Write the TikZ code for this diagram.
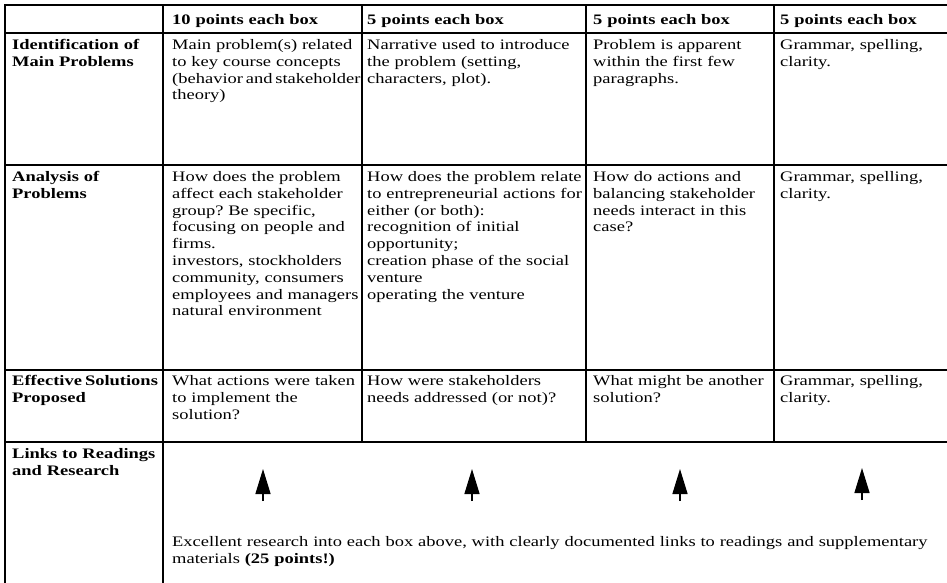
\documentclass[tikz,border=0pt]{standalone}
\usepackage{fontspec}
\setmainfont{Liberation Serif}[FakeStretch=1.275]
\usetikzlibrary{arrows.meta}
\frenchspacing
\newcommand{\cellfont}{\fontsize{14.5}{16.8}\selectfont\frenchspacing}
\begin{document}
\begin{tikzpicture}[x=1pt,y=-1pt,
  grid/.style={line width=2pt,line cap=rect},
  cell/.style={anchor=north west,inner sep=0pt,align=left,font=\cellfont},
  hcell/.style={cell,font=\cellfont\bfseries},
  uparrow/.style={line width=1.5pt,-{Triangle[length=25pt,width=15pt]}}]
\useasboundingbox (0,0) rectangle (947,583);
% grid lines
\draw[grid] (5,5) -- (947,5);
\draw[grid] (5,33) -- (947,33);
\draw[grid] (5,165) -- (947,165);
\draw[grid] (5,370) -- (947,370);
\draw[grid] (5,442) -- (947,442);
\draw[grid] (5,5) -- (5,590);
\draw[grid] (163,5) -- (163,590);
\draw[grid] (362,5) -- (362,442);
\draw[grid] (586,5) -- (586,442);
\draw[grid] (774,5) -- (774,442);
% header
\node[hcell,text width=188pt] (h1) at (172,12.5) {\strut 10 points each box};
\node[hcell,text width=217pt] (h2) at (367,12.5) {\strut 5 points each box};
\node[hcell,text width=179pt] (h3) at (593,12.5) {\strut 5 points each box};
\node[hcell,text width=160pt] (h4) at (780,12.5) {\strut 5 points each box};
% row 1
\node[hcell,text width=149pt] (r1c0) at (12,37.5) {\strut Identification of\\Main Problems};
\node[cell,text width=188pt] (r1c1) at (172,37.5) {\strut Main problem(s) related\\to key course concepts\\\mbox{(behavior\hspace{2.8pt}and\hspace{2.8pt}stakeholder}\\theory)};
\node[cell,text width=217pt] (r1c2) at (367,37.5) {\strut Narrative used to introduce\\the problem (setting,\\characters, plot).};
\node[cell,text width=179pt] (r1c3) at (593,37.5) {\strut Problem is apparent\\within the first few\\paragraphs.};
\node[cell,text width=160pt] (r1c4) at (780,37.5) {\strut Grammar, spelling,\\clarity.};
% row 2
\node[hcell,text width=149pt] (r2c0) at (12,169.5) {\strut Analysis of\\Problems};
\node[cell,text width=188pt] (r2c1) at (172,169.5) {\strut How does the problem\\affect each stakeholder\\group? Be specific,\\focusing on people and\\firms.\\investors, stockholders\\community, consumers\\employees and managers\\natural environment};
\node[cell,text width=217pt] (r2c2) at (367,169.5) {\strut How does the problem relate\\to entrepreneurial actions for\\either (or both):\\recognition of initial\\opportunity;\\creation phase of the social\\venture\\operating the venture};
\node[cell,text width=179pt] (r2c3) at (593,169.5) {\strut How do actions and\\balancing stakeholder\\needs interact in this\\case?};
\node[cell,text width=160pt] (r2c4) at (780,169.5) {\strut Grammar, spelling,\\clarity.};
% row 3
\node[hcell,text width=149pt] (r3c0) at (12,374) {\strut \mbox{Effective\hspace{3pt}Solutions}\\Proposed};
\node[cell,text width=188pt] (r3c1) at (172,374) {\strut What actions were taken\\to implement the\\solution?};
\node[cell,text width=217pt] (r3c2) at (367,374) {\strut How were stakeholders\\needs addressed (or not)?};
\node[cell,text width=179pt] (r3c3) at (593,374) {\strut What might be another\\solution?};
\node[cell,text width=160pt] (r3c4) at (780,374) {\strut Grammar, spelling,\\clarity.};
% row 4
\node[hcell,text width=149pt] (r4c0) at (12,446.5) {\strut Links to Readings\\and Research};
\node[cell,text width=770pt] (r4txt) at (172,534.5) {\strut Excellent research into each box above, with clearly documented links to readings and supplementary\\materials \textbf{(25 points!)}};
% arrows
\coordinate (a1s) at (263,501); \coordinate (a1t) at (263,469);
\coordinate (a2s) at (472,501); \coordinate (a2t) at (472,469);
\coordinate (a3s) at (680,501); \coordinate (a3t) at (680,469);
\coordinate (a4s) at (862,500); \coordinate (a4t) at (862,468);
\draw[uparrow] (a1s) -- (a1t);
\draw[uparrow] (a2s) -- (a2t);
\draw[uparrow] (a3s) -- (a3t);
\draw[uparrow] (a4s) -- (a4t);
\end{tikzpicture}
\end{document}
